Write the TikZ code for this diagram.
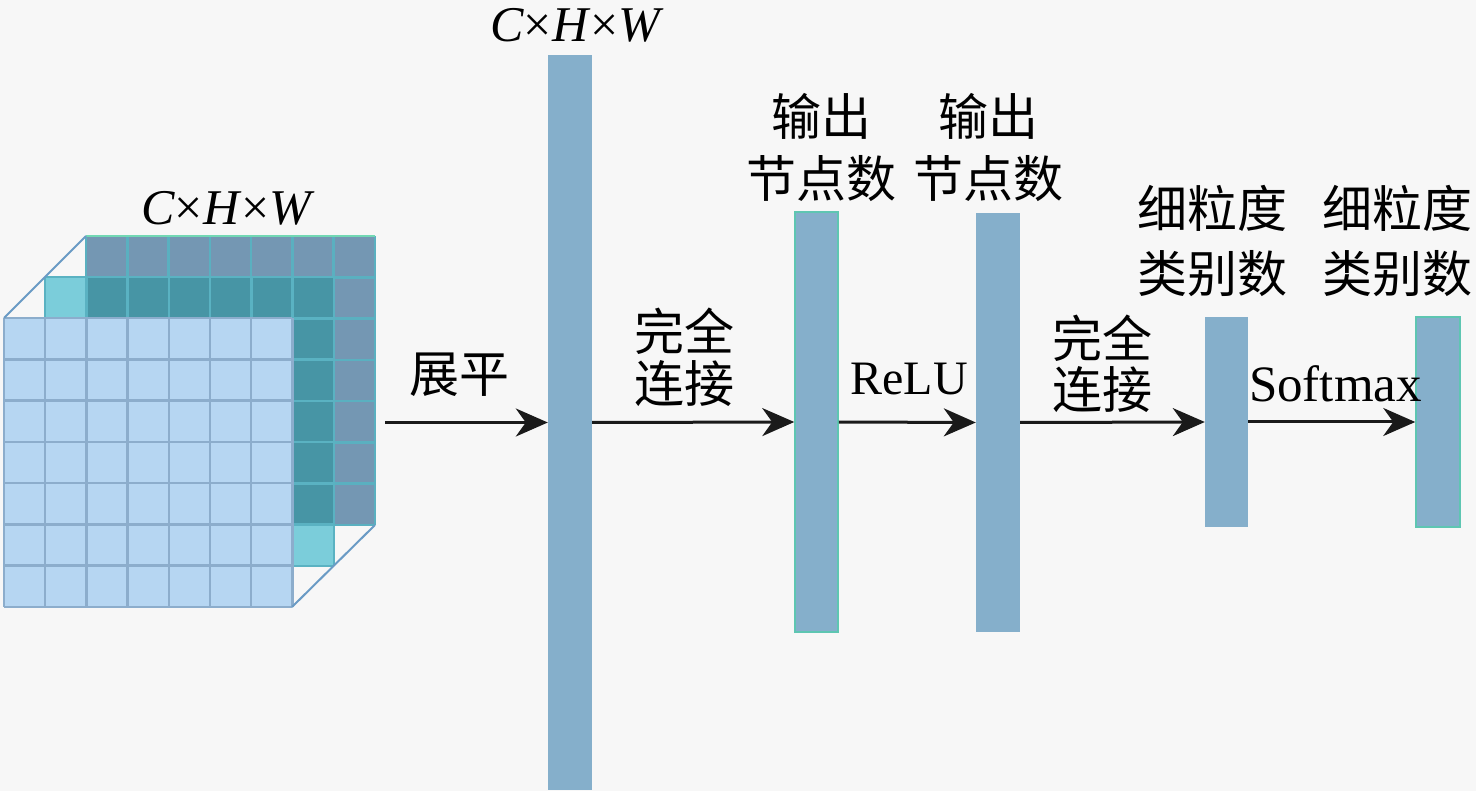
\documentclass[tikz,border=0pt]{standalone}
\usepackage{fontspec}
\setmainfont{Liberation Serif}
\newfontfamily\cjk{Noto Sans CJK SC}
\usetikzlibrary{arrows.meta}
\definecolor{bgc}{HTML}{F7F7F7}
\definecolor{barc}{HTML}{85AFCB}
\definecolor{baredge}{HTML}{5EC6B2}
\definecolor{backc}{HTML}{7497B3}
\definecolor{backgrid}{HTML}{5AB0C0}
\definecolor{midlight}{HTML}{7BCDDA}
\definecolor{middark}{HTML}{4795A5}
\definecolor{midgrid}{HTML}{5AB2C2}
\definecolor{frontc}{HTML}{B6D6F2}
\definecolor{frontgrid}{HTML}{8CADCC}
\definecolor{diagc}{HTML}{6A9BC5}
\definecolor{topedge}{HTML}{72D8B4}
\definecolor{arrc}{HTML}{1A1A1A}
\begin{document}
\begin{tikzpicture}[x=1pt,y=-1pt,
  bar/.style={rectangle, fill=barc, inner sep=0pt, minimum width=44pt, draw=none},
  edgebar/.style={bar, draw=baredge, line width=1.5pt},
  conn/.style={draw=arrc, line width=3pt, -{Stealth[length=32pt,width=28pt,inset=10pt]}},
  cjklab/.style={inner sep=0pt, anchor=base, font=\cjk\fontsize{50}{60}\selectfont},
  latlab/.style={inner sep=0pt, anchor=base, font=\fontsize{50}{60}\selectfont}]
\fill[bgc] (0,0) rectangle (1476,791);
\useasboundingbox (0,0) rectangle (1476,791);
% ---- cube: back layer
\fill[backc] (86,236) rectangle (375,525);
\foreach \i in {0,...,7} {
  \draw[backgrid, line width=2.5pt] (86+\i*41.29,236) -- ++(0,289);
  \draw[backgrid, line width=2.5pt] (86,236+\i*41.29) -- ++(289,0);
}
\draw[topedge, line width=2.5pt] (86,236) -- (375,236);
% ---- cube: middle layer
\fill[midlight] (45,277) rectangle (334,566);
\fill[middark] (86,277) rectangle (334,525);
\foreach \i in {0,...,7} {
  \draw[midgrid, line width=2.5pt] (45+\i*41.29,277) -- ++(0,289);
  \draw[midgrid, line width=2.5pt] (45,277+\i*41.29) -- ++(289,0);
}
% ---- cube: front layer
\fill[frontc] (4,318) rectangle (292,607);
\foreach \i in {0,...,7} {
  \draw[frontgrid, line width=2.5pt] (4+\i*41.2,318) -- ++(0,289);
  \draw[frontgrid, line width=2.5pt] (4,318+\i*41.29) -- ++(288,0);
}
\draw[diagc, line width=2pt] (4,318) -- (86,236);
\draw[diagc, line width=2pt] (292,607) -- (375,525);
\coordinate (cubeout) at (385,422.5);
% ---- bars
\node[bar, minimum height=735pt] (b1) at (570,422.5) {};
\node[edgebar, minimum width=43pt, minimum height=420pt] (b2) at (816.5,422) {};
\node[bar, minimum height=419pt] (b3) at (998,422.5) {};
\node[bar, minimum width=43pt, minimum height=210pt] (b4) at (1226.5,422) {};
\node[edgebar, minimum height=210pt] (b5) at (1438,422) {};
% ---- connectors
\draw[conn] (cubeout) -- (b1.west);
\draw[conn] (b1.east) -- (b2.west);
\draw[conn] (b2.east) -- (b3.west);
\draw[conn] (b3.east) -- (b4.west);
\draw[conn] (b4.east) -- (b5.west);
% ---- labels
\node[latlab] (t1) at (577,42) {\textit{C}×\textit{H}×\textit{W}};
\node[latlab] (t0) at (228,225) {\textit{C}×\textit{H}×\textit{W}};
\node[cjklab] (l1) at (459,393) {展平};
\node[cjklab] (l2a) at (684,351) {完全};
\node[cjklab] (l2b) at (684,403) {连接};
\node[cjklab] (l3a) at (821,136) {输出};
\node[cjklab] (l3b) at (821,198) {节点数};
\node[latlab, font=\fontsize{48}{58}\selectfont] (l4) at (909,395) {ReLU};
\node[cjklab] (l5a) at (988,136) {输出};
\node[cjklab] (l5b) at (988,198) {节点数};
\node[cjklab] (l6a) at (1102,358) {完全};
\node[cjklab] (l6b) at (1102,409) {连接};
\node[cjklab] (l7a) at (1212,228) {细粒度};
\node[cjklab] (l7b) at (1212,293) {类别数};
\node[latlab, font=\fontsize{51}{60}\selectfont] (l8) at (1335.5,402) {Softmax};
\node[cjklab] (l9a) at (1397,228) {细粒度};
\node[cjklab] (l9b) at (1397,293) {类别数};
\end{tikzpicture}
\end{document}
